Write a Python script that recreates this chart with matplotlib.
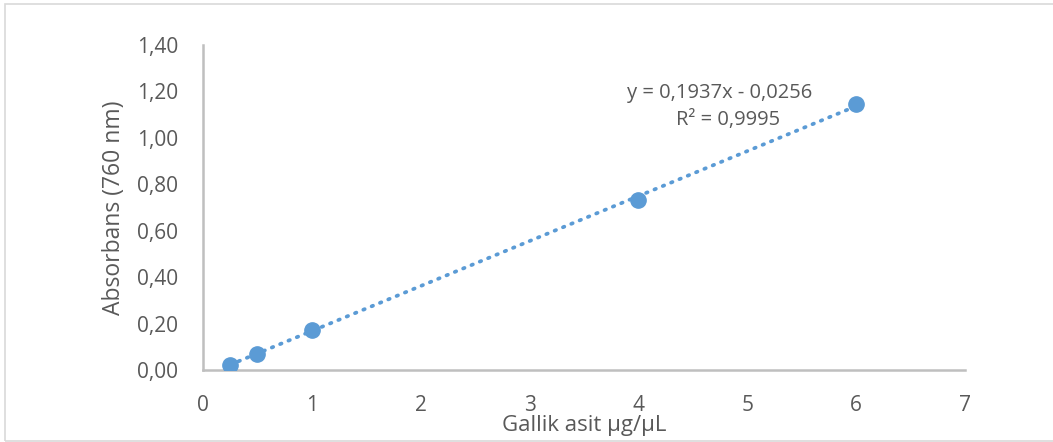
import matplotlib.pyplot as plt
from matplotlib.patches import Rectangle

# standard curve data
conc = [0.25, 0.5, 1, 4, 6]
absorb = [0.02, 0.067, 0.173, 0.732, 1.146]
slope = 0.1937
intercept = -0.0256
yticks = [0, 0.2, 0.4, 0.6, 0.8, 1.0, 1.2, 1.4]
xticks = [0, 1, 2, 3, 4, 5, 6, 7]

plt.rcParams['font.family'] = ['Open Sans', 'DejaVu Sans']
gray = '#595959'
blue = '#5B9BD5'

fig = plt.figure(figsize=(10.53, 4.42), dpi=100)
fig.patches.append(Rectangle((5/1053, 1/442), 1.2, 437/442, transform=fig.transFigure,
                             fill=False, edgecolor='#D9D9D9', linewidth=1.2))
ax = fig.add_axes([203/1053, 72/442, 762/1053, 325/442])

xs = [min(conc), max(conc)]
ax.plot(xs, [slope*x + intercept for x in xs], color=blue, linestyle=(0, (0.4, 2.0)),
        linewidth=2.7, dash_capstyle='round')
ax.plot(conc, absorb, 'o', color=blue, markersize=11, zorder=3)

ax.set_xlim(0, 7)
ax.set_ylim(0, 1.4)
ax.set_xticks(xticks)
ax.set_yticks(yticks)
ax.set_yticklabels([f"{v:.2f}".replace('.', ',') for v in yticks])
ax.tick_params(length=0, labelsize=15, colors=gray)
ax.tick_params(axis='y', pad=18)
ax.tick_params(axis='x', pad=18)
for s in ['top', 'right']:
    ax.spines[s].set_visible(False)
for s in ['left', 'bottom']:
    ax.spines[s].set_color('#BFBFBF')
    ax.spines[s].set_linewidth(1.8)

ax.set_ylabel('Absorbans (760 nm)', fontsize=16.5, color=gray, labelpad=8)
ax.set_xlabel('Gallik asit µg/µL', fontsize=16, color=gray, labelpad=-1)

ax.text(720/1053, 349/442, 'y = 0,1937x - 0,0256', transform=fig.transFigure,
        ha='center', va='center', fontsize=14.5, color=gray)
ax.text(728/1053, 322/442, 'R² = 0,9995', transform=fig.transFigure,
        ha='center', va='center', fontsize=14.5, color=gray)

plt.savefig('out.png', dpi=100)
